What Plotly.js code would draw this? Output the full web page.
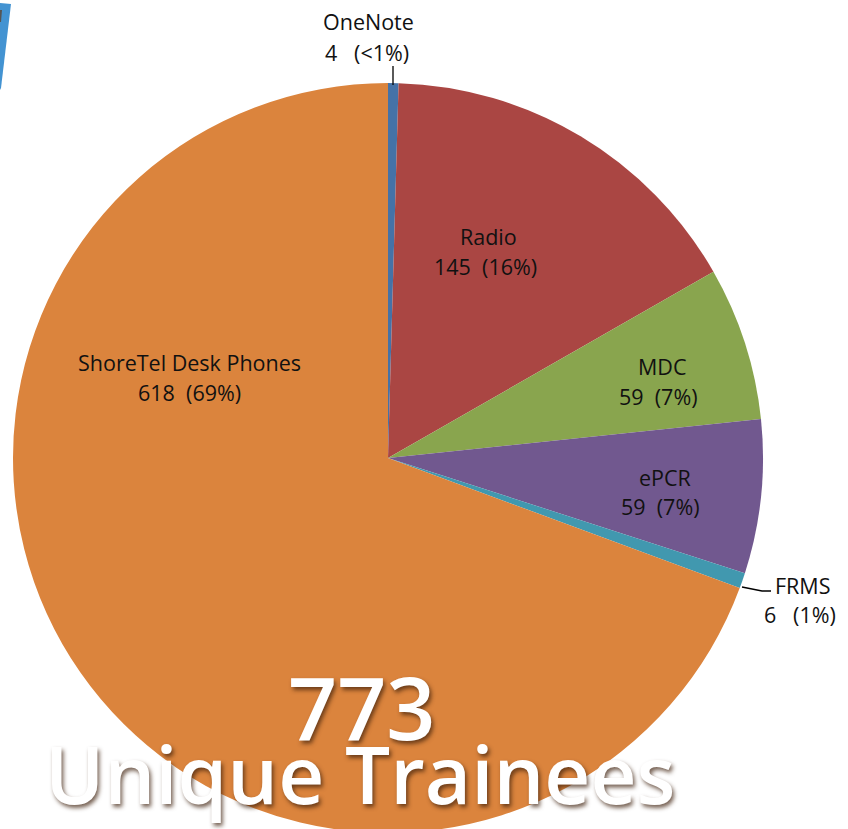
<!DOCTYPE html>
<html><head><meta charset="utf-8">
<script src="https://cdn.plot.ly/plotly-3.0.1.min.js"></script>
<style>html,body{margin:0;padding:0;overflow:hidden;background:#fff}#chart{width:848px;height:840px}</style>
</head><body><div id="chart"></div>
<script>
const categories = ["OneNote", "Radio", "MDC", "ePCR", "FRMS", "ShoreTel Desk Phones"];
const values = [4, 145, 59, 59, 6, 618];
const colors = ["#4572A7", "#AA4643", "#89A54E", "#71588F", "#4198AF", "#DB843D"];
const totalLabel = "773";
const subtitleLabel = "Unique Trainees";

const W = 848, H = 840;
const px = x => x / W, py = y => 1 - y / H;
const total = values.reduce((a, b) => a + b, 0);
const pctText = v => { const p = v / total * 100; return p < 0.5 ? "<1%" : Math.round(p) + "%"; };
const sp = n => "\u00a0".repeat(n);

// label layout: [line1 x, line1 y, line2 x, line2 y, gap spaces]
const labelPos = [
  [368, 21, 367, 52, 3],
  [488, 236, 486, 266, 2],
  [662, 366, 658, 396, 2],
  [665, 477, 660, 507, 2],
  [803, 585, 800, 614, 3],
  [189, 362, 189, 392, 2]
];
const lblFont = {family: "Open Sans, sans-serif", size: 21.5, color: "#111"};
const annotations = [];
categories.forEach((c, i) => {
  const p = labelPos[i];
  annotations.push({xref: "paper", yref: "paper", x: px(p[0]), y: py(p[1]), text: c, showarrow: false, font: lblFont, xanchor: "center", yanchor: "middle"});
  annotations.push({xref: "paper", yref: "paper", x: px(p[2]), y: py(p[3]), text: values[i] + sp(p[4]) + "(" + pctText(values[i]) + ")", showarrow: false, font: lblFont, xanchor: "center", yanchor: "middle"});
});
const bigFont = s => ({family: "Open Sans, sans-serif", size: s, color: "#ffffff", weight: 600, shadow: "2px 3px 4px rgba(60,30,10,0.7)"});
annotations.push({xref: "paper", yref: "paper", x: px(362), y: py(706), text: totalLabel, showarrow: false, font: bigFont(86), xanchor: "center", yanchor: "middle"});
annotations.push({xref: "paper", yref: "paper", x: px(360), y: py(772), text: subtitleLabel, showarrow: false, font: bigFont(80), xanchor: "center", yanchor: "middle"});

const shapes = [
  {type: "line", xref: "paper", yref: "paper", x0: px(393), y0: py(66), x1: px(393), y1: py(85), line: {color: "#000", width: 1.3}},
  {type: "path", xref: "paper", yref: "paper", path: `M${px(742)},${py(587)} L${px(762)},${py(591)} L${px(771)},${py(591)}`, line: {color: "#000", width: 1.3}},
  {type: "path", xref: "paper", yref: "paper", path: `M${px(0)},${py(3)} L${px(11)},${py(4)} L${px(1)},${py(88)} L${px(0)},${py(90)} Z`, fillcolor: "#4393D2", line: {width: 0}},
  {type: "path", xref: "paper", yref: "paper", path: `M${px(0)},${py(10)} L${px(2)},${py(10)} L${px(1)},${py(22)} L${px(0)},${py(22)} Z`, fillcolor: "#555", line: {width: 0}}
];

Plotly.newPlot("chart", [{
  type: "pie",
  labels: categories,
  values: values,
  sort: false,
  direction: "clockwise",
  rotation: 0,
  textinfo: "none",
  hoverinfo: "label+value+percent",
  marker: {colors: colors, line: {width: 0}},
  domain: {x: [px(13), px(763)], y: [7 / H, 757 / H]}
}], {
  width: W, height: H,
  margin: {l: 0, r: 0, t: 0, b: 0},
  showlegend: false,
  paper_bgcolor: "#fff",
  annotations: annotations,
  shapes: shapes
}, {displayModeBar: false, staticPlot: true});
</script></body></html>
